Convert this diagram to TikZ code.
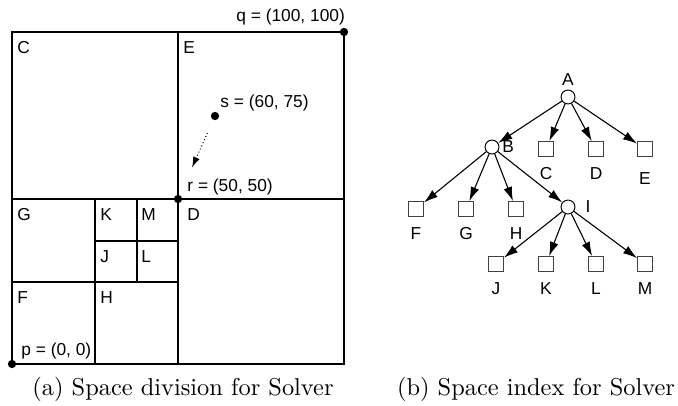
\documentclass[tikz,border=0pt]{standalone}
\usepackage{fontspec}
\newfontfamily\helv{Liberation Sans}
\usetikzlibrary{arrows.meta, positioning}

\begin{document}
\begin{tikzpicture}[
  x=0.41pt, y=-0.41pt,
  >={Latex[length=5.8pt,width=3.6pt]},
  wall/.style={line width=0.65pt},
  tag/.style={font=\helv\fontsize{7.1}{8.5}\selectfont, anchor=base west, inner sep=0pt},
  lbl/.style={font=\helv\fontsize{7.1}{8.5}\selectfont, inner sep=1pt, label distance=3.2pt},
  dot/.style={circle, fill, inner sep=0pt, minimum size=3.4pt},
  inner/.style={draw, circle, inner sep=0pt, minimum size=5.7pt, line width=0.4pt},
  leaf/.style={draw=black!75, rectangle, inner sep=0pt, minimum size=6.1pt, line width=0.4pt},
  arrow/.style={->, line width=0.45pt},
  caption/.style={anchor=base}
]
\useasboundingbox (0,0) rectangle (678,405);

% Space division (a)
\draw[wall] (12,32) rectangle (344,364);
\draw[wall] (178,32) -- (178,364);
\draw[wall] (12,199) -- (344,199);
\draw[wall] (95,199) -- (95,364);
\draw[wall] (12,282) -- (178,282);
\draw[wall] (137,199) -- (137,282);
\draw[wall] (95,241) -- (178,241);

% Region names
\node[tag] (rC) at (17,54) {C};
\node[tag] (rE) at (183,54) {E};
\node[tag] (rG) at (17,220) {G};
\node[tag] (rK) at (100,220) {K};
\node[tag] (rM) at (141,220) {M};
\node[tag] (rD) at (187,220) {D};
\node[tag] (rJ) at (100,262) {J};
\node[tag] (rL) at (141,262) {L};
\node[tag] (rF) at (17,303) {F};
\node[tag] (rH) at (100,303) {H};

% Points
\node[dot] (q) at (344,32) {};
\node[dot] (r) at (178,199) {};
\node[dot] (p) at (12,364) {};
\node[dot] (s) at (215,116) {};
\node[tag] (qtxt) at (236,22) {q = (100, 100)};
\node[tag] (stxt) at (220,107) {s = (60, 75)};
\node[tag] (rtxt) at (187,191) {r = (50, 50)};
\node[tag] (ptxt) at (21,355) {p = (0, 0)};
\draw[densely dotted, line width=0.4pt, -{Latex[length=4.4pt,width=2.8pt]}, shorten <=5.7pt, shorten >=12.2pt] (s) -- (r);

% Space index (b)
\node[inner, label={[lbl, label distance=0.6pt]above:A}] (tA) at (568,97) {};
\node[inner, label={[lbl, label distance=0pt]right:B}] (tB) at (492,147) {};
\node[leaf, label={[lbl]below:C}] (tC) at (546,149) {};
\node[leaf, label={[lbl]below:D}] (tD) at (596,149) {};
\node[leaf, label={[lbl, label distance=5.2pt]below:E}] (tE) at (645,149) {};
\node[leaf, label={[lbl]below:F}] (tF) at (416,209) {};
\node[leaf, label={[lbl]below:G}] (tG) at (466,209) {};
\node[leaf, label={[lbl]below:H}] (tH) at (516,209) {};
\node[inner, label={[lbl, label distance=3pt]right:I}] (tI) at (568,207) {};
\node[leaf, label={[lbl]below:J}] (tJ) at (496,264) {};
\node[leaf, label={[lbl]below:K}] (tK) at (546,264) {};
\node[leaf, label={[lbl]below:L}] (tL) at (596,264) {};
\node[leaf, label={[lbl]below:M}] (tM) at (645,264) {};

\draw[arrow] (tA) -- (tB);
\draw[arrow] (tA) -- (tC);
\draw[arrow] (tA) -- (tD);
\draw[arrow] (tA) -- (tE);
\draw[arrow] (tB) -- (tF);
\draw[arrow] (tB) -- (tG);
\draw[arrow] (tB) -- (tH);
\draw[arrow] (tB) -- (tI);
\draw[arrow] (tI) -- (tJ);
\draw[arrow] (tI) -- (tK);
\draw[arrow] (tI) -- (tL);
\draw[arrow] (tI) -- (tM);

% Captions
\node[caption] (capA) at (183,395) {(a) Space division for Solver};
\node[caption] (capB) at (536,395) {(b) Space index for Solver};

\end{tikzpicture}
\end{document}
